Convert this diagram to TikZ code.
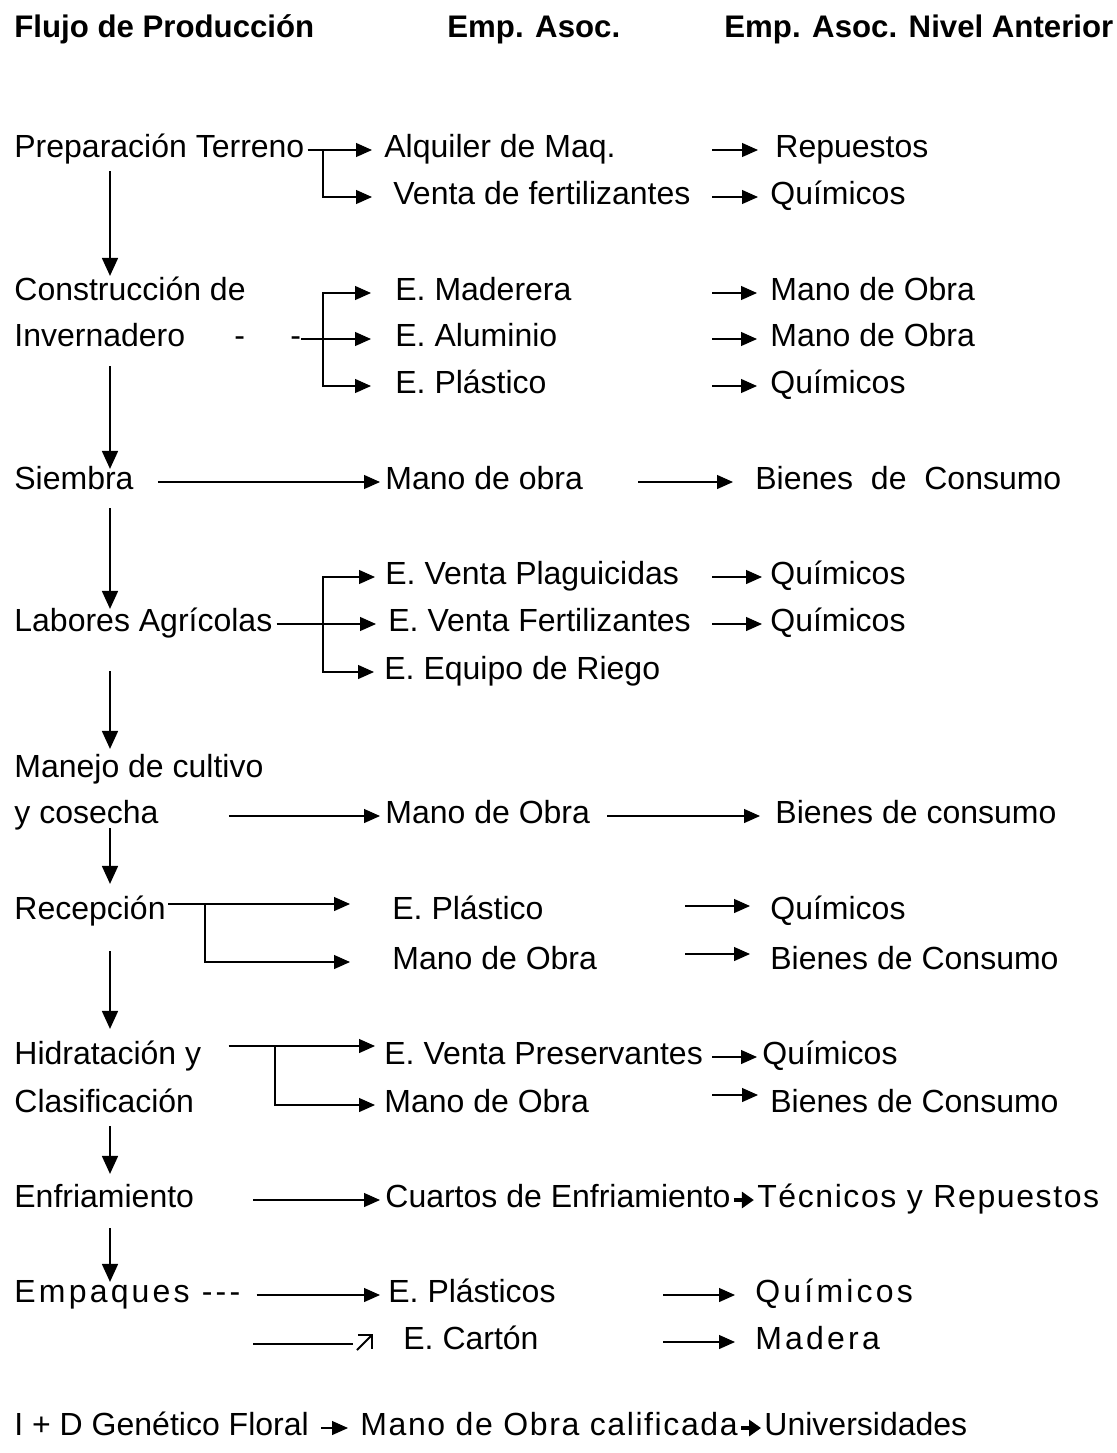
\documentclass[tikz,border=0pt]{standalone}
\usepackage{fontspec}
\setmainfont{Liberation Sans}
\usetikzlibrary{arrows.meta,positioning}
\begin{document}
\begin{tikzpicture}[x=0.5pt,y=-0.5pt,
  txt/.style={anchor=west,inner sep=0pt,text height=0.72em,text depth=0pt,font=\fontsize{16}{19}\selectfont},
  head/.style={txt,font=\fontsize{15.6}{19}\selectfont\bfseries},
  spaced/.style={txt,font=\fontsize{16}{19}\selectfont\addfontfeatures{LetterSpace=10}},
  wide/.style={txt,font=\fontsize{16}{19}\selectfont\addfontfeatures{LetterSpace=5}},
  line/.style={line width=0.6pt},
  flow/.style={line width=0.6pt,-{Triangle[length=8pt,width=7pt]}},
  down/.style={line width=0.9pt,-{Triangle[length=9pt,width=8pt]}},
  bold/.style={line width=1.6pt,-{Triangle[length=6pt,width=8pt]}}]
\useasboundingbox (0,0) rectangle (1116,1453);

% titulos
\node[head] (tflujo) at (14,30) {Flujo de Producción};
\node[head] (tasoc) at (447,30) {Emp. Asoc.};
\node[head] (tnivel) at (724,30) {Emp. Asoc. Nivel Anterior};

% flujo de produccion
\node[txt] (prep) at (14,150) {Preparación Terreno};
\node[txt] (const) at (14,293) {Construcción de};
\node[txt] (inver) at (14,339) {Invernadero};
\node[txt] (guionA) at (234,339) {-};
\node[txt] (guionB) at (290,339) {-};
\node[txt] (siemb) at (14,482) {Siembra};
\node[txt] (labor) at (14,624) {Labores Agrícolas};
\node[txt] (manej) at (14,770) {Manejo de cultivo};
\node[txt] (cosech) at (14,816) {y cosecha};
\node[txt] (recep) at (14,912) {Recepción};
\node[txt] (hidra) at (14,1057) {Hidratación y};
\node[txt] (clasif) at (14,1105) {Clasificación};
\node[txt] (enfri) at (14,1200) {Enfriamiento};
\node[spaced] (empaq) at (14,1295) {Empaques {-}{-}{-}};
\node[txt] (genet) at (14,1428) {I + D Genético Floral};

% empresas asociadas
\node[txt] (alq) at (384,150) {Alquiler de Maq.};
\node[txt] (vfert) at (393,197) {Venta de fertilizantes};
\node[txt] (mader) at (395,293) {E. Maderera};
\node[txt] (alum) at (395,339) {E. Aluminio};
\node[txt] (plas) at (395,386) {E. Plástico};
\node[txt] (mobraA) at (385,482) {Mano de obra};
\node[txt] (plag) at (385,577) {E. Venta Plaguicidas};
\node[txt] (fertil) at (388,624) {E. Venta Fertilizantes};
\node[txt] (riego) at (384,672) {E. Equipo de Riego};
\node[txt] (mobraB) at (385,816) {Mano de Obra};
\node[txt] (plasR) at (392,912) {E. Plástico};
\node[txt] (mobraC) at (392,962) {Mano de Obra};
\node[txt] (preserv) at (384,1057) {E. Venta Preservantes};
\node[txt] (mobraD) at (384,1105) {Mano de Obra};
\node[txt] (cuartos) at (385,1200) {Cuartos de Enfriamiento};
\node[txt] (plasE) at (388,1295) {E. Plásticos};
\node[txt] (carton) at (403,1342) {E. Cartón};
\node[wide] (mobraE) at (360,1428) {Mano de Obra calificada};

% nivel anterior
\node[txt] (repu) at (775,150) {Repuestos};
\node[txt] (quimA) at (770,197) {Químicos};
\node[txt] (manoA) at (770,293) {Mano de Obra};
\node[txt] (manoB) at (770,339) {Mano de Obra};
\node[txt] (quimB) at (770,386) {Químicos};
\node[txt] (bienA) at (755,482) {Bienes~~de~~Consumo};
\node[txt] (quimC) at (770,577) {Químicos};
\node[txt] (quimD) at (770,624) {Químicos};
\node[txt] (bienB) at (775,816) {Bienes de consumo};
\node[txt] (quimE) at (770,912) {Químicos};
\node[txt] (bienC) at (770,962) {Bienes de Consumo};
\node[txt] (quimF) at (762,1057) {Químicos};
\node[txt] (bienD) at (770,1105) {Bienes de Consumo};
\node[wide,right=13pt of cuartos] (tecn) {Técnicos y Repuestos};
\node[spaced] (quimG) at (755,1295) {Químicos};
\node[spaced] (mader2) at (755,1342) {Madera};
\node[txt,right=13pt of mobraE] (univ) {Universidades};

% columnas y uniones
\coordinate (eje) at (110,0);
\coordinate (colA) at (712,0);
\coordinate (colS) at (638,0);
\coordinate (colM) at (607,0);
\coordinate (colR) at (685,0);
\coordinate (colP) at (663,0);
\coordinate (jprep) at (323,150);
\coordinate (jcons) at (323,339);
\coordinate (jlab) at (323,624);
\coordinate (jrec) at (205,904);
\coordinate (jhid) at (275,1046);
\coordinate (libre) at (253,1344);

% flechas verticales
\draw[down,shorten <=6.75pt,shorten >=4.75pt] (prep.south -| eje) -- (const.north -| eje);
\draw[down,shorten <=9.75pt,shorten >=2.75pt] (inver.south -| eje) -- (siemb.north -| eje);
\draw[down,shorten <=9.25pt,shorten >=3.75pt] (siemb.south -| eje) -- (labor.north -| eje);
\draw[down,shorten <=19.75pt,shorten >=6.75pt] (labor.south -| eje) -- (manej.north -| eje);
\draw[down,shorten <=2.25pt,shorten >=10.25pt] (cosech.south -| eje) -- (recep.north -| eje);
\draw[down,shorten <=15.75pt,shorten >=10.25pt] (recep.south -| eje) -- (hidra.north -| eje);
\draw[down,shorten <=6.75pt,shorten >=9.25pt] (clasif.south -| eje) -- (enfri.north -| eje);
\draw[down,shorten <=10.25pt,shorten >=2.75pt] (enfri.south -| eje) -- (empaq.north -| eje);

% hacia empresas asociadas
\draw[line] ([xshift=1.5pt]prep.east) -- (jprep);
\draw[flow,shorten >=6pt] (jprep) -- (alq.west);
\draw[flow,shorten >=10.5pt] (jprep) |- (vfert.west);
\draw[line] (guionB.east) -- (jcons);
\draw[flow,shorten >=12pt] (jcons) |- (mader.west);
\draw[flow,shorten >=12pt] (jcons) -- (alum.west);
\draw[flow,shorten >=12pt] (jcons) |- (plas.west);
\draw[flow,shorten <=12pt,shorten >=2.5pt] (siemb.east) -- (mobraA.west);
\draw[line] ([xshift=2pt]labor.east) -- (jlab);
\draw[flow,shorten >=5pt] (jlab) |- (plag.west);
\draw[flow,shorten >=6pt] (jlab) -- (fertil.west);
\draw[flow,shorten >=5pt] (jlab) |- (riego.west);
\draw[flow,shorten <=35pt,shorten >=2.5pt] (cosech.east) -- (mobraB.west);
\draw[flow,shorten >=21pt] ([xshift=1pt,yshift=4pt]recep.east) -- ([yshift=4pt]plasR.west);
\draw[flow,shorten >=21pt] (jrec) |- (mobraC.west);
\draw[flow,shorten >=4.5pt] ([xshift=13.5pt,yshift=5.5pt]hidra.east) -- ([yshift=5.5pt]preserv.west);
\draw[flow,shorten >=4.5pt] (jhid) |- (mobraD.west);
\draw[flow,shorten <=29.5pt,shorten >=2.5pt] (enfri.east) -- (cuartos.west);
\draw[flow,shorten <=8pt,shorten >=4pt] (empaq.east) -- (plasE.west);
\draw[line] (libre) -- ([xshift=-25pt]carton.west |- libre);
\draw[line width=0.9pt,-{Straight Barb[length=5pt,width=10pt]}] ([xshift=-23pt,yshift=-4pt]carton.west) -- ++(16,-16);
\draw[flow,shorten <=6pt,shorten >=6pt] (genet.east) -- (mobraE.west);

% hacia nivel anterior
\draw[flow,shorten >=8.5pt] (alq.east -| colA) -- (repu.west);
\draw[flow,shorten >=6pt] (vfert.east -| colA) -- (quimA.west);
\draw[flow,shorten >=6.5pt] (mader.east -| colA) -- (manoA.west);
\draw[flow,shorten >=6.5pt] (alum.east -| colA) -- (manoB.west);
\draw[flow,shorten >=6.5pt] (plas.east -| colA) -- (quimB.west);
\draw[flow,shorten >=11pt] (mobraA.east -| colS) -- (bienA.west);
\draw[flow,shorten >=4pt] (plag.east -| colA) -- (quimC.west);
\draw[flow,shorten >=4pt] (fertil.east -| colA) -- (quimD.west);
\draw[flow,shorten >=7.5pt] (mobraB.east -| colM) -- (bienB.west);
\draw[flow,shorten >=10pt] ([yshift=3pt]plasR.east -| colR) -- ([yshift=3pt]quimE.west);
\draw[flow,shorten >=10pt] ([yshift=4pt]mobraC.east -| colR) -- ([yshift=4pt]bienC.west);
\draw[flow,shorten >=2.5pt] (preserv.east -| colA) -- (quimF.west);
\draw[flow,shorten >=6pt] ([yshift=5pt]mobraD.east -| colA) -- ([yshift=5pt]bienD.west);
\draw[bold,shorten <=1.5pt,shorten >=1.5pt] (cuartos.east) -- (tecn.west);
\draw[flow,shorten >=10pt] (plasE.east -| colP) -- (quimG.west);
\draw[flow,shorten >=10pt] (carton.east -| colP) -- (mader2.west);
\draw[bold,shorten <=1.5pt,shorten >=1.5pt] (mobraE.east) -- (univ.west);
\end{tikzpicture}
\end{document}
